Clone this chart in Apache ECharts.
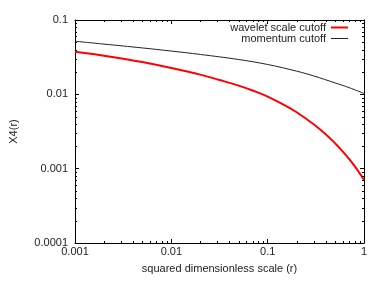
<!DOCTYPE html>
<html>
<head>
<meta charset="utf-8">
<script src="https://cdn.jsdelivr.net/npm/echarts@6/dist/echarts.min.js"></script>
<style>html,body{margin:0;padding:0;background:#fff}#c{width:382px;height:286px}</style>
</head>
<body>
<div id="c"></div>
<script>
// r values (squared dimensionless scale)
var rWavelet = [0.001, 0.002, 0.00316, 0.005, 0.01, 0.02, 0.0316, 0.05, 0.0708, 0.1, 0.15, 0.2, 0.3, 0.4, 0.5, 0.6, 0.7, 0.8, 0.9, 1];
var wavelet  = [0.0375, 0.0331, 0.0302, 0.0272, 0.0226, 0.0184, 0.0156, 0.0131, 0.01119, 0.00933, 0.00714, 0.00574, 0.00395, 0.00290, 0.00220, 0.00171, 0.00135, 0.00108, 0.00087, 0.00071];
var rMomentum = [0.001, 0.002, 0.005, 0.01, 0.02, 0.05, 0.1, 0.2, 0.3, 0.5, 0.7, 1];
var momentum  = [0.0518, 0.0474, 0.0421, 0.0382, 0.0344, 0.0294, 0.0252, 0.0205, 0.0177, 0.01426, 0.01230, 0.01028];
var xTicks = [0.001, 0.01, 0.1, 1];
var yTicks = [0.0001, 0.001, 0.01, 0.1];
var minorMult = [2, 3, 4, 5, 6, 7, 8, 9];

function pairs(xs, ys) { return xs.map(function (x, i) { return [x, ys[i]]; }); }
var minorData = [];
xTicks.slice(0, -1).forEach(function (d) { minorMult.forEach(function (m) { minorData.push([d * m, 0.01, 0]); }); });
yTicks.slice(0, -1).forEach(function (d) { minorMult.forEach(function (m) { minorData.push([0.01, d * m, 1]); }); });

var font = 'Liberation Sans, Arial, Helvetica, sans-serif';
var txt = '#222';
function fmt(v) { return String(+v.toPrecision(6)); }

var chart = echarts.init(document.getElementById('c'), null, { renderer: 'canvas' });
var frame = { show: true, lineStyle: { color: '#000', width: 1 } };
var tick = { show: true, inside: true, length: 4, lineStyle: { color: '#000', width: 1 } };
chart.setOption({
  animation: false,
  backgroundColor: '#fff',
  grid: { left: 66, right: 18, top: 20, bottom: 43, containLabel: false },
  xAxis: [{
    type: 'log', logBase: 10, min: 0.001, max: 1,
    name: 'squared dimensionless scale (r)', nameLocation: 'middle', nameGap: 20,
    nameTextStyle: { fontFamily: font, fontSize: 11, color: txt },
    axisLine: frame, axisTick: tick, splitLine: { show: false }, minorTick: { show: false },
    axisLabel: { fontFamily: font, fontSize: 11, color: txt, margin: 3, formatter: fmt }
  }, {
    type: 'log', logBase: 10, min: 0.001, max: 1, position: 'top',
    axisLine: frame, axisTick: tick, splitLine: { show: false }, axisLabel: { show: false }
  }],
  yAxis: [{
    type: 'log', logBase: 10, min: 0.0001, max: 0.1,
    name: 'X4(r)', nameLocation: 'middle', nameGap: 56, nameRotate: 90,
    nameTextStyle: { fontFamily: font, fontSize: 11, color: txt },
    axisLine: frame, axisTick: tick, splitLine: { show: false },
    axisLabel: { fontFamily: font, fontSize: 11, color: txt, margin: 7, formatter: fmt }
  }, {
    type: 'log', logBase: 10, min: 0.0001, max: 0.1, position: 'right',
    axisLine: frame, axisTick: tick, splitLine: { show: false }, axisLabel: { show: false }
  }],
  legend: [{
    data: [{ name: 'wavelet scale cutoff', icon: 'rect' }],
    right: 29, top: 17, align: 'right', orient: 'vertical',
    itemWidth: 17, itemHeight: 2, itemGap: 4,
    textStyle: { fontFamily: font, fontSize: 11, color: txt }
  }, {
    data: [{ name: 'momentum cutoff', icon: 'rect' }],
    right: 29, top: 28, align: 'right', orient: 'vertical',
    itemWidth: 17, itemHeight: 1, itemGap: 4,
    textStyle: { fontFamily: font, fontSize: 11, color: txt }
  }],
  series: [{
    name: 'wavelet scale cutoff', type: 'line', data: pairs(rWavelet, wavelet),
    showSymbol: false, symbol: 'none', smooth: 0.4,
    lineStyle: { color: '#ff0000', width: 2 }, itemStyle: { color: '#ff0000' }
  }, {
    name: 'momentum cutoff', type: 'line', data: pairs(rMomentum, momentum),
    showSymbol: false, symbol: 'none', smooth: 0.4,
    lineStyle: { color: '#222', width: 1 }, itemStyle: { color: '#222' }
  }, {
    type: 'custom', silent: true, clip: false, data: minorData, z: 5,
    renderItem: function (params, api) {
      var cs = params.coordSys;
      var kind = api.value(2);
      var L = 2, children = [];
      var st = { stroke: '#000', lineWidth: 1 };
      if (kind === 0) {
        var x = Math.round(api.coord([api.value(0), 0.01])[0]) + 0.5;
        var yb = cs.y + cs.height, yt = cs.y;
        children.push({ type: 'line', shape: { x1: x, y1: yb, x2: x, y2: yb - L }, style: st });
        children.push({ type: 'line', shape: { x1: x, y1: yt, x2: x, y2: yt + L }, style: st });
      } else {
        var y = Math.round(api.coord([0.01, api.value(1)])[1]) + 0.5;
        var xl = cs.x, xr = cs.x + cs.width;
        children.push({ type: 'line', shape: { x1: xl, y1: y, x2: xl + L, y2: y }, style: st });
        children.push({ type: 'line', shape: { x1: xr, y1: y, x2: xr - L, y2: y }, style: st });
      }
      return { type: 'group', children: children };
    }
  }]
});
</script>
</body>
</html>
